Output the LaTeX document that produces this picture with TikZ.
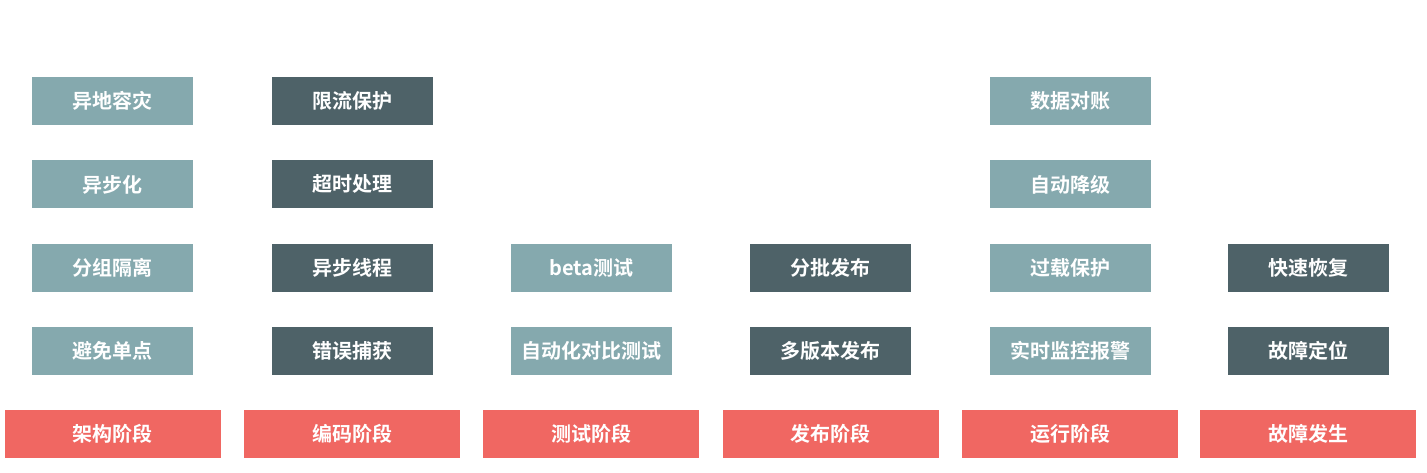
\documentclass[tikz,border=0pt]{standalone}
\usepackage{fontspec}
\newfontfamily\cjk{Noto Sans CJK SC}[BoldFont={Noto Sans CJK SC Bold}]
\usetikzlibrary{positioning}
\definecolor{lightteal}{HTML}{85A9AE}
\definecolor{darkteal}{HTML}{4E6268}
\definecolor{stagered}{HTML}{F06762}
\tikzset{
  box/.style={text=white, font=\cjk\bfseries\fontsize{15}{18}\selectfont, minimum height=36pt, inner sep=0pt, text centered},
  light/.style={box, fill=lightteal, minimum width=120.75pt},
  dark/.style={box, fill=darkteal, minimum width=120.75pt},
  stage/.style={box, fill=stagered, minimum width=162pt}
}
\begin{document}
\begin{tikzpicture}[node distance=26pt and 17.2pt]
  \useasboundingbox (0,0) rectangle (1070.25pt,354pt);
  % stages
  \node[stage] at (84.4pt,28.5pt) (arch) {架构阶段};
  \node[stage,right=of arch] (code) {编码阶段};
  \node[stage,right=of code] (test) {测试阶段};
  \node[stage,right=of test] (release) {发布阶段};
  \node[stage,right=of release] (run) {运行阶段};
  \node[stage,right=15.8pt of run] (fault) {故障发生};

  % architecture
  \node[light,above=of arch] (single) {避免单点};
  \node[light,above=of single] (group) {分组隔离};
  \node[light,above=of group] (async) {异步化};
  \node[light,above=of async] (remote) {异地容灾};

  % coding
  \node[dark,above=of code] (catch) {错误捕获};
  \node[dark,above=of catch] (thread) {异步线程};
  \node[dark,above=of thread] (timeout) {超时处理};
  \node[dark,above=of timeout] (limit) {限流保护};

  % testing
  \node[light,above=of test] (compare) {自动化对比测试};
  \node[light,above=of compare] (beta) {beta测试};

  % release
  \node[dark,above=of release] (multi) {多版本发布};
  \node[dark,above=of multi] (batch) {分批发布};

  % running
  \node[light,above=of run] (monitor) {实时监控报警};
  \node[light,above=of monitor] (overload) {过载保护};
  \node[light,above=of overload] (degrade) {自动降级};
  \node[light,above=of degrade] (check) {数据对账};

  % fault
  \node[dark,above=of fault] (locate) {故障定位};
  \node[dark,above=of locate] (recover) {快速恢复};
\end{tikzpicture}
\end{document}
